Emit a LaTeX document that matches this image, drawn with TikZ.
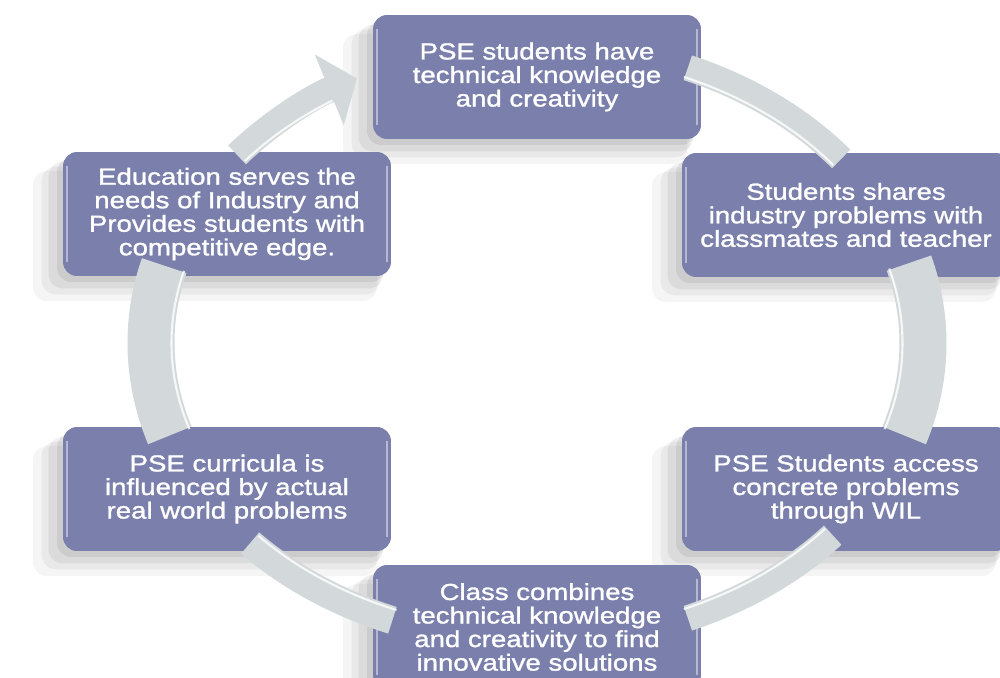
\documentclass[tikz,border=0pt]{standalone}
\usepackage{fontspec}
\setmainfont{Liberation Sans}
\newfontfamily\boxfont[FakeStretch=1.19,FakeBold=1.3]{Liberation Sans}
\usepackage{xcolor}
\usetikzlibrary{arrows.meta,shadows}
\definecolor{boxblue}{RGB}{122,127,171}
\definecolor{ringgray}{RGB}{211,217,219}

\begin{document}
\begin{tikzpicture}
			[x=0.02cm,y=0.02cm,
			stage/.style={rounded corners=0.28cm,fill=boxblue,text=white,align=center,
				minimum width=6.56cm,minimum height=2.48cm,inner sep=0pt,
				font=\boxfont\fontsize{13.2}{13.4}\selectfont,
				drop shadow={shadow xshift=-0.42cm,shadow yshift=-0.42cm,shadow scale=1.05,opacity=0.04,fill=black},
				drop shadow={shadow xshift=-0.32cm,shadow yshift=-0.32cm,shadow scale=1.03,opacity=0.05,fill=black},
				drop shadow={shadow xshift=-0.22cm,shadow yshift=-0.22cm,shadow scale=1.02,opacity=0.06,fill=black},
				drop shadow={shadow xshift=-0.12cm,shadow yshift=-0.12cm,opacity=0.07,fill=black},
				path picture={
					\draw[white,opacity=0.45,line width=1.2pt] ([xshift=2.5pt,yshift=-8pt]path picture bounding box.north west) -- ([xshift=2.5pt,yshift=8pt]path picture bounding box.south west);
					\draw[white,opacity=0.45,line width=1.2pt] ([xshift=-2.5pt,yshift=-8pt]path picture bounding box.north east) -- ([xshift=-2.5pt,yshift=8pt]path picture bounding box.south east);}},
			ring/.style={draw=ringgray},
			gloss/.style={draw=white,opacity=0.8,line width=1.2pt}]
				\useasboundingbox (0,0) rectangle (1000,677);
				\coordinate (ctr) at (537,334);
				\node[stage] (s1) at (537,600) {PSE students have\\technical knowledge\\and creativity};
				\node[stage] (s2) at (846,462) {Students shares\\industry problems with\\classmates and teacher};
				\node[stage] (s3) at (846,188) {PSE Students access\\concrete problems\\through WIL};
				\node[stage] (s4) at (537,50) {Class combines\\technical knowledge\\and creativity to find\\innovative solutions};
				\node[stage] (s5) at (227,188) {PSE curricula is\\influenced by actual\\real world problems};
				\node[stage] (s6) at (227,463) {Education serves the\\needs of Industry and\\Provides students with\\competitive edge.};
				% ring pieces between the boxes (start angle/end angle/width in px)
				\foreach \ts/\te/\w in {67/38/26,15.5/-18/47,-40/-67/26,-112/-138/28,-162/-195/47}{
				\draw[ring,line width=\w*0.02cm] (ctr) ++(\ts:386 and 299) arc[start angle=\ts,end angle=\te,x radius=386,y radius=299];
				\draw[gloss] (ctr) ++(\ts:386-\w/2+3 and 299-\w/2+3) arc[start angle=\ts,end angle=\te,x radius=386-\w/2+3,y radius=299-\w/2+3];}
				\draw[ring,line width=0.52cm,-{Triangle[width=1.5cm,length=0.6cm]}] (ctr) ++(141:386 and 299) arc[start angle=141,end angle=117.8,x radius=386,y radius=299];
				\draw[gloss] (ctr) ++(141:376 and 289) arc[start angle=141,end angle=123,x radius=376,y radius=289];
			\end{tikzpicture}
\end{document}
